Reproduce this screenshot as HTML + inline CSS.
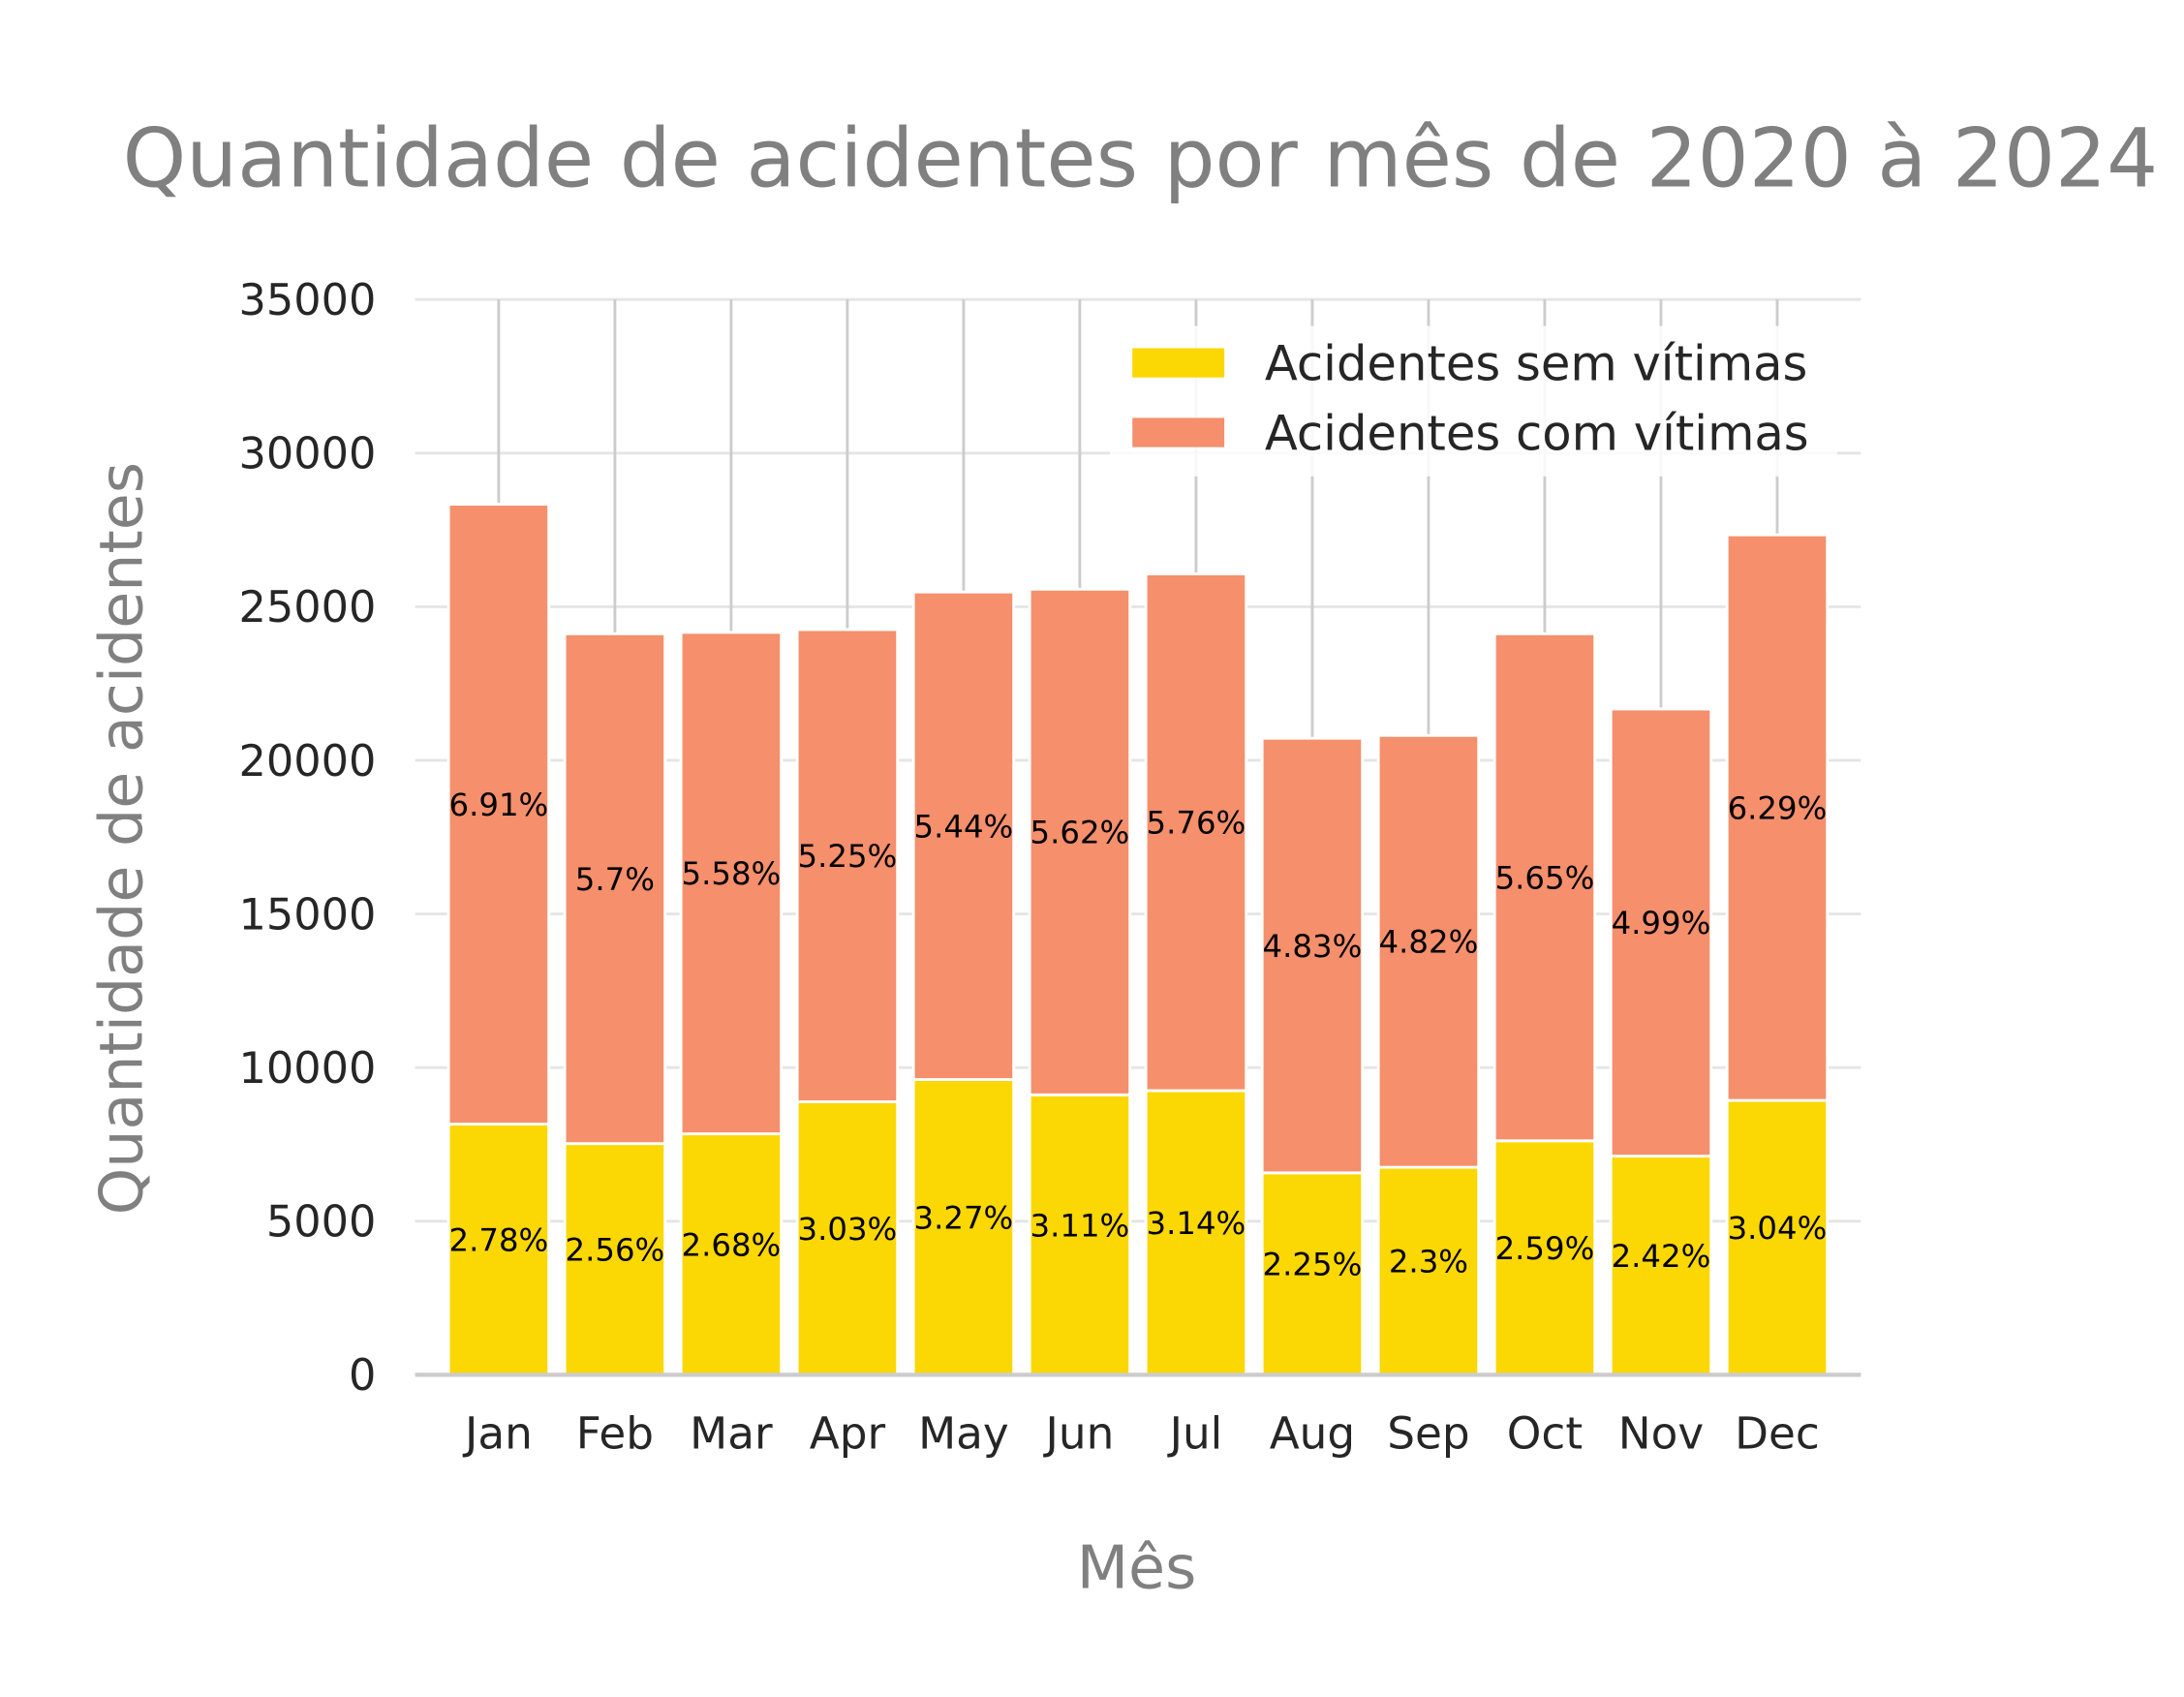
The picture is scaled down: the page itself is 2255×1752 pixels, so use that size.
<!DOCTYPE html>
<html><head><meta charset="utf-8"><style>
html,body{margin:0;padding:0;background:#fff;}
svg{display:block;font-family:"DejaVu Sans","Liberation Sans",sans-serif;}
</style></head><body>
<svg id="chart" width="2255" height="1752" viewBox="0 0 1568 1218.3" xmlns="http://www.w3.org/2000/svg">
<rect width="1568" height="1219" fill="#fff"/>
<text x="88" y="134" font-size="58" fill="#808080">Quantidade de acidentes por mês de 2020 à 2024</text>
<text transform="translate(102,602) rotate(-90)" text-anchor="middle" font-size="43" fill="#808080">Quantidade de acidentes</text>
<text x="816" y="1140" text-anchor="middle" font-size="43" fill="#808080">Mês</text>
<g id="grid"></g><g id="bars"></g><g id="labels"></g>
<g>
<rect x="797" y="234" width="522" height="108" fill="#fff" fill-opacity="0.85"/>
<rect x="813" y="250" width="66" height="21" fill="#FBD704"/>
<text x="908" y="273" font-size="34.5" fill="#262626">Acidentes sem vítimas</text>
<rect x="813" y="300" width="66" height="21" fill="#F58F6C"/>
<text x="908" y="323" font-size="34.5" fill="#262626">Acidentes com vítimas</text>
</g>
</svg>
<script>
const months=["Jan","Feb","Mar","Apr","May","Jun","Jul","Aug","Sep","Oct","Nov","Dec"];
const semVitimas=[8160,7526,7843,8886,9611,9113,9249,6574,6755,7617,7118,8931];
const totals=[28335,24119,24164,24255,25479,25570,26068,20719,20810,24119,21671,27338];
const pctSem=["2.78%","2.56%","2.68%","3.03%","3.27%","3.11%","3.14%","2.25%","2.3%","2.59%","2.42%","3.04%"];
const pctCom=["6.91%","5.7%","5.58%","5.25%","5.44%","5.62%","5.76%","4.83%","4.82%","5.65%","4.99%","6.29%"];
const yTicks=[0,5000,10000,15000,20000,25000,30000,35000];
const NS="http://www.w3.org/2000/svg";
const y=v=>987-v/35000*772;
const x=i=>358+i*83.45;
const bw=72;
function mk(tag,attrs,parent){const e=document.createElementNS(NS,tag);for(const k in attrs)e.setAttribute(k,attrs[k]);parent.appendChild(e);return e;}
const grid=document.getElementById('grid'),bars=document.getElementById('bars'),labels=document.getElementById('labels');
yTicks.forEach(t=>{
 const l=mk('line',{x1:298,x2:1336,y1:y(t),y2:y(t),stroke:'#e5e5e5','stroke-width':2},grid);
 
 
 const tx=mk('text',{x:270,y:y(t)+11,'text-anchor':'end','font-size':31,fill:'#262626'},grid);
 tx.textContent=t;
 
 
});
months.forEach((m,i)=>{
 const vl=mk('line',{x1:x(i),x2:x(i),y1:215,y2:y(totals[i]),stroke:'#cccccc','stroke-width':2},grid);
 
 
 const ry=mk('rect',{x:x(i)-bw/2,y:y(semVitimas[i]),width:bw,height:y(0)-y(semVitimas[i]),fill:'#FBD704',stroke:'#fff','stroke-width':2},bars);
 
 
 const ro=mk('rect',{x:x(i)-bw/2,y:y(totals[i]),width:bw,height:y(semVitimas[i])-y(totals[i]),fill:'#F58F6C',stroke:'#fff','stroke-width':2},bars);
 
 
 const t1=mk('text',{x:x(i),y:(y(0)+y(semVitimas[i]))/2+1,'text-anchor':'middle','font-size':22.5,fill:'#000'},labels);
 t1.textContent=pctSem[i];
 
 
 const t2=mk('text',{x:x(i),y:(y(semVitimas[i])+y(totals[i]))/2+1,'text-anchor':'middle','font-size':22.5,fill:'#000'},labels);
 t2.textContent=pctCom[i];
 
 
 const xl=mk('text',{x:x(i),y:1040,'text-anchor':'middle','font-size':31.5,fill:'#262626'},labels);
 xl.textContent=m;
 
 
});
const ax=mk('line',{x1:298,x2:1336,y1:987,y2:987,stroke:'#cccccc','stroke-width':3},labels);


</script>
</body></html>
